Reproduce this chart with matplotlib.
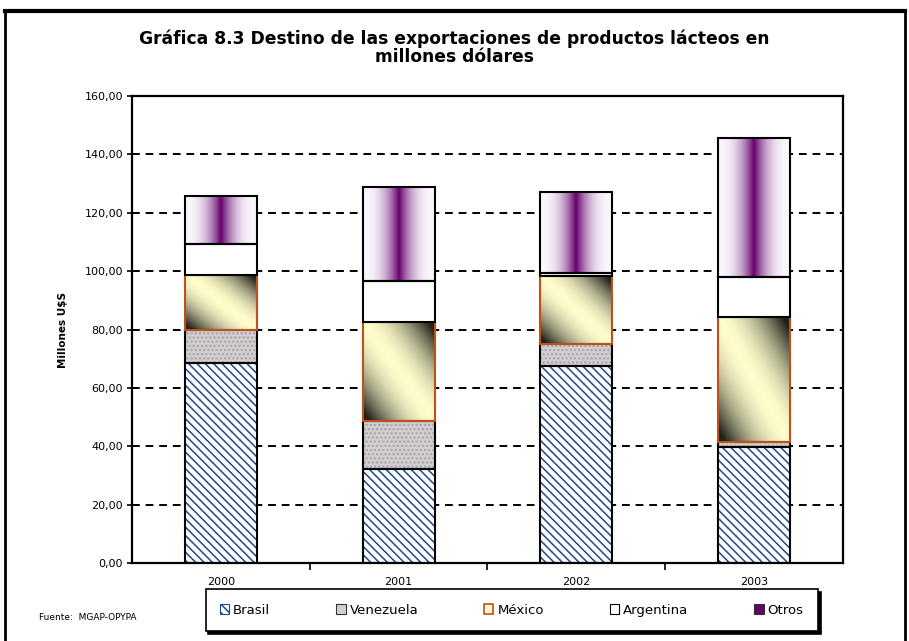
import matplotlib
matplotlib.use("Agg")
import matplotlib.pyplot as plt
import numpy as np
from matplotlib.patches import Patch
from matplotlib.lines import Line2D
from matplotlib.ticker import FuncFormatter

years = ["2000", "2001", "2002", "2003"]
brasil = [68.5, 32.1, 67.6, 39.6]
venezuela = [11.3, 16.5, 7.4, 2.0]
mexico = [18.9, 34.0, 23.3, 42.6]
argentina = [10.6, 14.0, 0.9, 13.9]
otros = [16.4, 32.2, 28.0, 47.4]
series_names = ["Brasil", "Venezuela", "México", "Argentina", "Otros"]

plt.rcParams["hatch.linewidth"] = 1.1

fig = plt.figure(figsize=(9.09, 6.41), dpi=100)
ax = fig.add_axes([0.1452, 0.1217, 0.7822, 0.7285])

x = np.arange(len(years))
w = 0.405
purple = np.array([0.40, 0.0, 0.42])
cream = np.array([1.0, 0.99, 0.80])
dark = np.array([0.13, 0.13, 0.10])

# gradient textures
n = 64
t = np.linspace(0, 1, n)
prof = np.clip(1 - np.abs(t - 0.5) * 2, 0, 1) ** 2.4
edge_col = np.array([0.98, 0.97, 0.99])
otros_img = (edge_col[None, :] * (1 - prof[:, None]) + purple[None, :] * prof[:, None])[None, :, :]
xx, yy = np.meshgrid(t, t)
d = np.clip(np.abs(xx - yy) * 1.1, 0, 1) ** 1.8
mex_img = cream[None, None, :] * (1 - d[..., None]) + dark[None, None, :] * d[..., None]


def textured(bars, img):
    for r in bars:
        x0, y0 = r.get_x(), r.get_y()
        im = ax.imshow(img, extent=[x0, x0 + r.get_width(), y0, y0 + r.get_height()],
                       aspect="auto", origin="upper", zorder=2, interpolation="bilinear")
        im.set_clip_path(r)


bottom = np.zeros(len(years))
# Brasil: hatched
ax.bar(x, brasil, w, bottom=bottom, color="white", edgecolor="#1d4a8a", hatch="\\" * 4, linewidth=0, zorder=2)
ax.bar(x, brasil, w, bottom=bottom, fill=False, edgecolor="black", linewidth=1.5, zorder=3)
bottom += brasil
# Venezuela: grey marble-ish
ax.bar(x, venezuela, w, bottom=bottom, color="#d2ced2", edgecolor="#aaa2a6", hatch="....", linewidth=0, zorder=2)
ax.bar(x, venezuela, w, bottom=bottom, fill=False, edgecolor="black", linewidth=1.5, zorder=3)
bottom += venezuela
# Mexico: diagonal gradient, orange edge
b = ax.bar(x, mexico, w, bottom=bottom, color="white", linewidth=0, zorder=2)
textured(b, mex_img)
ax.bar(x, mexico, w, bottom=bottom, fill=False, edgecolor="#c0501a", linewidth=1.5, zorder=3)
bottom += mexico
# Argentina: white
ax.bar(x, argentina, w, bottom=bottom, color="white", edgecolor="black", linewidth=1.5, zorder=3)
bottom += argentina
# Otros: purple vertical gradient
b = ax.bar(x, otros, w, bottom=bottom, color="white", linewidth=0, zorder=2)
textured(b, otros_img)
ax.bar(x, otros, w, bottom=bottom, fill=False, edgecolor="black", linewidth=1.5, zorder=3)

ax.set_xlim(-0.5, 3.5)
ax.set_ylim(0, 160)
ax.set_yticks(np.arange(0, 161, 20))
ax.yaxis.set_major_formatter(FuncFormatter(lambda v, p: f"{v:.2f}".replace(".", ",")))
ax.yaxis.grid(True, linestyle=(0, (4, 3)), color="black", linewidth=1.4, zorder=0)
ax.set_axisbelow(True)
ax.tick_params(axis="y", direction="inout", length=7, width=1.2, labelsize=8, pad=3)

ax.set_xticks([0.5, 1.5, 2.5])
ax.set_xticklabels([])
ax.set_xticks(x, minor=True)
ax.set_xticklabels(years, minor=True)
ax.tick_params(axis="x", which="major", direction="out", length=5, width=1.2)
ax.tick_params(axis="x", which="minor", length=0, labelsize=8, pad=10)

for s in ax.spines.values():
    s.set_linewidth(1.6)
    s.set_color("black")

ax.set_ylabel("Millones U$S", fontsize=7.5, fontweight="bold", labelpad=12)

fig.text(0.5, 0.925, "Gráfica 8.3 Destino de las exportaciones de productos lácteos en\nmillones dólares",
         ha="center", va="center", fontsize=12.3, fontweight="bold", linespacing=1.0)
fig.text(0.043, 0.036, "Fuente:  MGAP-OPYPA", fontsize=6.5, ha="left", va="center")

handles = [
    Patch(facecolor="white", edgecolor="#1d4a8a", hatch="\\" * 4, linewidth=0.8),
    Patch(facecolor="#d2ced2", edgecolor="#333333", linewidth=0.8),
    Patch(facecolor="#fffdc8", edgecolor="#c0501a", linewidth=1.2),
    Patch(facecolor="white", edgecolor="black", linewidth=0.8),
    Patch(facecolor="#66006a", edgecolor="#333333", linewidth=0.8),
]
leg = fig.legend(handles, series_names, loc="center", bbox_to_anchor=(0.563, 0.048, 0.0, 0.0),
                 ncol=5, fontsize=9.5, frameon=True, fancybox=False, edgecolor="black",
                 handlelength=0.7, handleheight=0.7, handletextpad=0.3, columnspacing=5.0,
                 borderpad=1.1, shadow={"color": "black", "alpha": 1.0, "ox": 2, "oy": -2},
                 borderaxespad=0)
leg.get_frame().set_linewidth(1.2)

# outer frame
fig.add_artist(Line2D([5 / 909, 905 / 909], [1 - 11 / 641, 1 - 11 / 641], color="black", linewidth=3, transform=fig.transFigure))
fig.add_artist(Line2D([5 / 909, 5 / 909], [0, 1 - 11 / 641], color="black", linewidth=2, transform=fig.transFigure))
fig.add_artist(Line2D([905 / 909, 905 / 909], [0, 1 - 11 / 641], color="black", linewidth=2, transform=fig.transFigure))

fig.savefig("out.png", dpi=100)
